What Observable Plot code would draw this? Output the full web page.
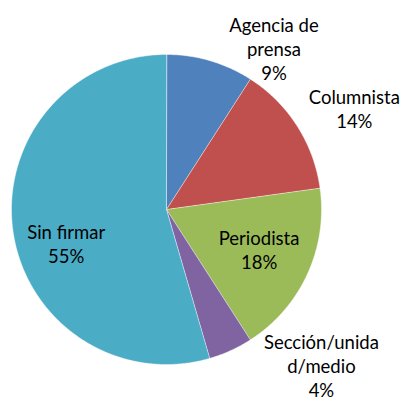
<!DOCTYPE html>
<html><head><meta charset="utf-8">
<script src="https://cdn.jsdelivr.net/npm/d3@7"></script>
<script src="https://cdn.jsdelivr.net/npm/@observablehq/plot@0.6"></script>
<style>body{margin:0;background:#fff}</style>
</head><body><div id="chart"></div>
<script>
const categories = ["Agencia de prensa", "Columnista", "Periodista", "Sección/unidad/medio", "Sin firmar"];
const values = [9.1, 13.7, 18.1, 4.6, 54.5];
const percentLabels = ["9%", "14%", "18%", "4%", "55%"];
const labelLines = [["Agencia de", "prensa"], ["Columnista"], ["Periodista"], ["Sección/unida", "d/medio"], ["Sin firmar"]];
const colors = ["#4F81BD", "#C0504D", "#9BBB59", "#8064A2", "#4BACC6"];
// label layout: radius factor and pixel nudges
const labelLayout = [
  {r: 1.2, dx: 55, dy: 17},
  {r: 1.3, dx: 18, dy: 7},
  {r: 0.65, dx: 1, dy: -2},
  {r: 1.4, dx: 65, dy: -42},
  {r: 0.68, dx: 4, dy: 19}
];

const total = d3.sum(values);
const pie = [];
let acc = 0;
values.forEach((v, i) => {
  const a0 = acc / total * 2 * Math.PI;
  acc += v;
  const a1 = acc / total * 2 * Math.PI;
  pie.push({i, a0, a1});
});

const pts = [];
pie.forEach(s => {
  pts.push({cat: categories[s.i], x: 0, y: 0});
  const n = Math.max(2, Math.ceil((s.a1 - s.a0) / (Math.PI / 360)));
  for (let k = 0; k <= n; k++) {
    const a = s.a0 + (s.a1 - s.a0) * k / n;
    pts.push({cat: categories[s.i], x: Math.sin(a), y: Math.cos(a)});
  }
});

const labels = pie.map(s => {
  const m = (s.a0 + s.a1) / 2;
  const L = labelLayout[s.i];
  return {
    cat: categories[s.i],
    text: labelLines[s.i].concat([percentLabels[s.i]]).join("\n"),
    x: Math.sin(m) * L.r,
    y: Math.cos(m) * L.r,
    dx: L.dx, dy: L.dy
  };
});

const chart = Plot.plot({
  width: 404,
  height: 403,
  marginLeft: 11,
  marginRight: 83,
  marginTop: 54,
  marginBottom: 39,
  x: {domain: [-1, 1], axis: null},
  y: {domain: [-1, 1], axis: null},
  color: {domain: categories, range: colors},
  style: {fontFamily: "Lato, sans-serif", background: "#fff"},
  marks: [
    Plot.line(pts, {x: "x", y: "y", z: "cat", fill: "cat", stroke: "#ffffff", strokeWidth: 0.6, strokeOpacity: 0.7, curve: "linear-closed"}),
    ...labels.map(l => Plot.text([l], {x: "x", y: "y", text: "text", dx: l.dx, dy: l.dy, fontSize: 18.5, lineHeight: 1.3, fill: "#000", textAnchor: "middle", lineAnchor: "middle"}))
  ]
});
document.getElementById("chart").appendChild(chart);
</script>
</body></html>
